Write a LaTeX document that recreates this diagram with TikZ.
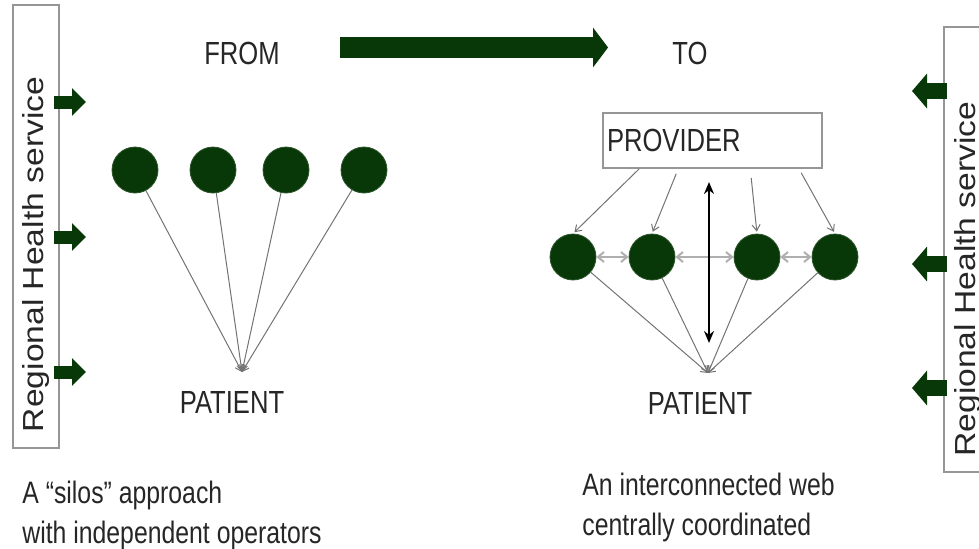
\documentclass[tikz,border=0pt]{standalone}
\usepackage{fontspec}
\usepackage{xcolor}
\usepackage{tikz}
\usetikzlibrary{arrows.meta, positioning, calc}
\setmainfont{Liberation Sans}
\newfontfamily\narrowfont[FakeStretch=0.8]{Liberation Sans}
\newfontfamily\widefont[FakeStretch=1.16]{Liberation Sans}
\definecolor{silogreen}{RGB}{8, 56, 8}
\definecolor{boxgray}{RGB}{150, 150, 150}
\definecolor{linkgray}{RGB}{115, 115, 115}
\definecolor{webgray}{RGB}{175, 175, 175}

\begin{document}
\begin{tikzpicture}[
    x=0.5pt, y=-0.5pt,
    every node/.style={text=black!85},
    label/.style={font=\narrowfont\fontsize{16}{19}\selectfont, inner sep=3pt},
    caption/.style={font=\narrowfont\fontsize{15.5}{20}\selectfont, align=left, anchor=north west, inner sep=0pt},
    sidebox/.style={draw=boxgray, line width=0.8pt, minimum width=23pt, inner sep=0pt},
    sidetext/.style={font=\widefont\fontsize{14.5}{17}\selectfont, rotate=90, anchor=base, inner sep=0pt},
    provbox/.style={draw=boxgray, line width=0.8pt, minimum width=109.5pt, minimum height=27.5pt, text width=105.5pt, inner xsep=2pt, align=left, font=\narrowfont\fontsize{16}{19}\selectfont},
    unit/.style={circle, fill=silogreen, draw=silogreen!85, minimum size=23pt, inner sep=0pt},
    link/.style={draw=linkgray, line width=0.5pt, -{Straight Barb[length=3pt, width=4pt]}},
    peer/.style={draw=webgray, line width=1pt, {Straight Barb[length=3pt, width=5pt]}-{Straight Barb[length=3pt, width=5pt]}},
    twoway/.style={draw=black, line width=1.2pt, {Stealth[length=6pt, width=5pt]}-{Stealth[length=6pt, width=5pt]}},
    inflow/.style={draw=silogreen, line width=6.5pt, -{Triangle[length=7pt, width=13.5pt]}},
    outflow/.style={draw=silogreen, line width=8pt, -{Triangle[length=7.5pt, width=17pt]}},
    transition/.style={draw=silogreen, line width=10.5pt, -{Triangle[length=7.5pt, width=19.5pt]}}
]
\useasboundingbox (0,0) rectangle (979,548);

% Regional health service, both sides
\node[sidebox, minimum height=221.5pt] (lbox) at (36,226.5) {};
\node[sidetext] (ltext) at (43,254.5) {Regional Health service};
\node[sidebox, minimum height=222.5pt] (rbox) at (967,249.5) {};
\node[sidetext] (rtext) at (975,279) {Regional Health service};

\foreach \y [count=\i] in {102,237,372} {
  \coordinate (lin\i) at (86,\y);
  \draw[inflow] ($(lbox.east |- lin\i)+(-6,0)$) -- (lin\i);
}
\foreach \y [count=\i] in {91,264,388} {
  \coordinate (rout\i) at (912,\y);
  \draw[outflow] ($(rbox.west |- rout\i)+(4,0)$) -- (rout\i);
}

% From / to
\node[label] (from) at (242,53) {FROM};
\node[label] (to) at (690,53) {TO};
\draw[transition, shorten <=27pt, shorten >=29pt] ([yshift=2.75pt]from.east) -- ([yshift=2.75pt]to.west);

% Silos
\foreach \x [count=\i] in {135,213,286,364}
  \node[unit] (s\i) at (\x,170) {};
\coordinate (lhub) at (242,372);
\node[label] (lpatient) at (232,402) {PATIENT};
\foreach \i in {1,...,4}
  \draw[link] (s\i) -- (lhub);

% Web
\node[provbox] (provider) at (712.5,140.5) {PROVIDER};
\foreach \x [count=\i] in {573,652,757,835}
  \node[unit] (w\i) at (\x,257) {};
\foreach \dx/\dy/\i in {18.5/0/1, 37/-2.5/2, 74.5/-4.5/3, 99.5/-2/4}
  \draw[link, shorten >=1pt] ([xshift=\dx pt, yshift=\dy pt]provider.south west) -- (w\i.north);
\draw[peer] (w1) -- (w2);
\draw[peer] (w2) -- (w3);
\draw[peer] (w3) -- (w4);
\coordinate (vtop) at (709,182);
\coordinate (vbot) at (709,343);
\draw[twoway] (vtop) -- (vbot);
\coordinate (rhub) at (708,373);
\node[label] (rpatient) at (700,403) {PATIENT};
\foreach \i in {1,...,4}
  \draw[link] (w\i) -- (rhub);

% Captions
\node[caption] (silocap) at (22,481) {A “silos” approach\\with independent operators};
\node[caption] (webcap) at (582,473) {An interconnected web\\centrally coordinated};

\end{tikzpicture}
\end{document}
